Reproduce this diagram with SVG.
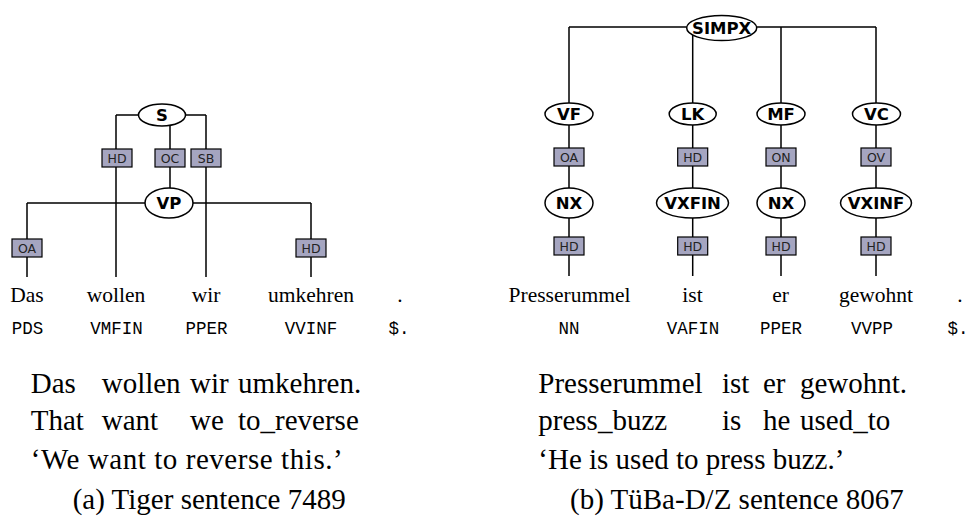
<svg xmlns="http://www.w3.org/2000/svg" width="969" height="526" viewBox="0 0 969 526">
<style>
.e{fill:#fff;stroke:#000;stroke-width:1.5}
.b{fill:#a5a5c0;stroke:#000;stroke-width:1.2}
.l{stroke:#000;stroke-width:1.5;fill:none}
.nt{font-family:"DejaVu Sans",sans-serif;font-weight:bold;font-size:16.5px;text-anchor:middle;fill:#000}
.ed{font-family:"DejaVu Sans",sans-serif;font-size:12.5px;text-anchor:middle;fill:#222}
.w{font-family:"Liberation Serif",serif;font-size:21.5px;text-anchor:middle;fill:#000}
.p{font-family:"Liberation Mono",monospace;font-size:17.5px;text-anchor:middle;fill:#000}
.s{font-family:"Liberation Serif",serif;font-size:29px;fill:#000}
</style>
<rect width="969" height="526" fill="#fff"/>

<g id="connectors" class="l">
  <path d="M116 115H206M116 115V277M206 115V277M170 118V203M27 203H311M27 203V277M311 203V277"/>
  <path d="M569 27H876M569 27V276M692.7 29V276M781 27V276M876 27V276"/>
</g>

<g id="edge-labels">
  <g id="e-s-hd"><rect class="b" x="102" y="149" width="30" height="18"/><text class="ed" x="117" y="162.5">HD</text></g>
  <g id="e-s-oc"><rect class="b" x="155" y="149" width="30" height="18"/><text class="ed" x="170" y="162.5">OC</text></g>
  <g id="e-s-sb"><rect class="b" x="191" y="149" width="30" height="18"/><text class="ed" x="206" y="162.5">SB</text></g>
  <g id="e-vp-oa"><rect class="b" x="12" y="239" width="30" height="18"/><text class="ed" x="27" y="252.5">OA</text></g>
  <g id="e-vp-hd"><rect class="b" x="296" y="239" width="30" height="18"/><text class="ed" x="311" y="252.5">HD</text></g>

  <g id="e-vf-oa"><rect class="b" x="554" y="148" width="30" height="18"/><text class="ed" x="569" y="161.5">OA</text></g>
  <g id="e-lk-hd"><rect class="b" x="677.7" y="148" width="30" height="18"/><text class="ed" x="692.7" y="161.5">HD</text></g>
  <g id="e-mf-on"><rect class="b" x="766" y="148" width="30" height="18"/><text class="ed" x="781" y="161.5">ON</text></g>
  <g id="e-vc-ov"><rect class="b" x="861" y="148" width="30" height="18"/><text class="ed" x="876" y="161.5">OV</text></g>
  <g id="e-nx1-hd"><rect class="b" x="554" y="237" width="30" height="18"/><text class="ed" x="569" y="250.5">HD</text></g>
  <g id="e-vxfin-hd"><rect class="b" x="677.7" y="237" width="30" height="18"/><text class="ed" x="692.7" y="250.5">HD</text></g>
  <g id="e-nx2-hd"><rect class="b" x="766" y="237" width="30" height="18"/><text class="ed" x="781" y="250.5">HD</text></g>
  <g id="e-vxinf-hd"><rect class="b" x="861" y="237" width="30" height="18"/><text class="ed" x="876" y="250.5">HD</text></g>
</g>

<g id="node-S"><ellipse class="e" cx="162" cy="115" rx="23.5" ry="11"/><text class="nt" x="162" y="121">S</text></g>
<g id="node-VP"><ellipse class="e" cx="169" cy="203" rx="24" ry="15"/><text class="nt" x="169" y="209">VP</text></g>

<g id="node-SIMPX"><ellipse class="e" cx="721.7" cy="28" rx="35" ry="12.5"/><text class="nt" x="721.7" y="34">SIMPX</text></g>
<g id="node-VF"><ellipse class="e" cx="569" cy="114" rx="24" ry="11"/><text class="nt" x="569" y="120">VF</text></g>
<g id="node-LK"><ellipse class="e" cx="692.7" cy="114" rx="23.5" ry="11"/><text class="nt" x="692.7" y="120">LK</text></g>
<g id="node-MF"><ellipse class="e" cx="781" cy="114" rx="24" ry="11"/><text class="nt" x="781" y="120">MF</text></g>
<g id="node-VC"><ellipse class="e" cx="876.5" cy="114" rx="24" ry="11"/><text class="nt" x="876.5" y="120">VC</text></g>
<g id="node-NX1"><ellipse class="e" cx="569" cy="203" rx="24" ry="15"/><text class="nt" x="569" y="209">NX</text></g>
<g id="node-VXFIN"><ellipse class="e" cx="692.5" cy="203" rx="36" ry="15"/><text class="nt" x="692.5" y="209">VXFIN</text></g>
<g id="node-NX2"><ellipse class="e" cx="781" cy="203" rx="24" ry="15"/><text class="nt" x="781" y="209">NX</text></g>
<g id="node-VXINF"><ellipse class="e" cx="876" cy="203" rx="35.5" ry="15"/><text class="nt" x="876" y="209">VXINF</text></g>

<g id="terminals-a">
  <text class="w" x="27" y="302">Das</text>
  <text class="w" x="116" y="302">wollen</text>
  <text class="w" x="206" y="302">wir</text>
  <text class="w" x="311" y="302">umkehren</text>
  <text class="w" x="400" y="302">.</text>
  <text class="p" x="27.5" y="334">PDS</text>
  <text class="p" x="116.5" y="334">VMFIN</text>
  <text class="p" x="206.5" y="334">PPER</text>
  <text class="p" x="311" y="334">VVINF</text>
  <text class="p" x="399" y="334">$.</text>
</g>

<g id="terminals-b">
  <text class="w" x="569.5" y="302">Presserummel</text>
  <text class="w" x="692.5" y="302">ist</text>
  <text class="w" x="780.5" y="302">er</text>
  <text class="w" x="876" y="302">gewohnt</text>
  <text class="w" x="960" y="302">.</text>
  <text class="p" x="569" y="334">NN</text>
  <text class="p" x="693" y="334">VAFIN</text>
  <text class="p" x="781" y="334">PPER</text>
  <text class="p" x="872" y="334">VVPP</text>
  <text class="p" x="958" y="334">$.</text>
</g>

<g id="gloss-a" class="s">
  <text x="30.7" y="393">Das</text>
  <text x="101.7" y="393">wollen</text>
  <text x="190" y="393">wir</text>
  <text x="238" y="393">umkehren.</text>
  <text x="30.7" y="430">That</text>
  <text x="101.7" y="430">want</text>
  <text x="190" y="430">we</text>
  <text x="238" y="430">to_reverse</text>
  <text x="30.7" y="469" textLength="312">‘We want to reverse this.’</text>
  <text x="72.7" y="509">(a) Tiger sentence 7489</text>
</g>

<g id="gloss-b" class="s">
  <text x="538.3" y="393">Presserummel</text>
  <text x="722" y="393">ist</text>
  <text x="763" y="393">er</text>
  <text x="800" y="393">gewohnt.</text>
  <text x="538.3" y="430">press_buzz</text>
  <text x="722" y="430">is</text>
  <text x="763" y="430">he</text>
  <text x="800" y="430">used_to</text>
  <text x="538.3" y="469">‘He is used to press buzz.’</text>
  <text x="570" y="509">(b) TüBa-D/Z sentence 8067</text>
</g>
</svg>
